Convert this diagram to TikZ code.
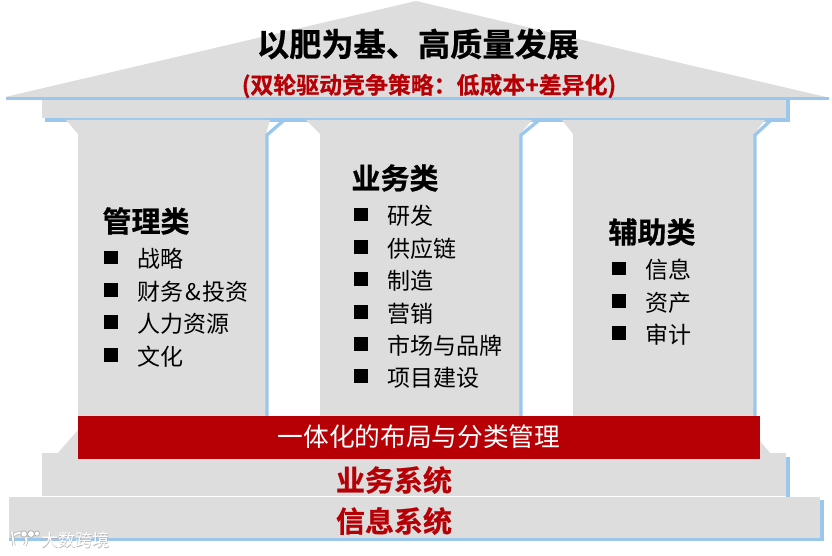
\documentclass[tikz,border=0pt]{standalone}
\usepackage{fontspec}
\setmainfont{Noto Sans CJK SC}
\newfontfamily\heavy[FakeBold=0.7]{Noto Sans CJK SC Bold}
\definecolor{pgray}{HTML}{DDDDDD}
\definecolor{pblue}{HTML}{9CC7EC}
\definecolor{pred}{HTML}{B60005}
\definecolor{wmshade}{HTML}{B4B4B4}
\tikzset{x=1pt,y=-1pt,
  body/.style={fill=pgray,draw=none},
  edge/.style={draw=pblue,line width=3.3pt,line join=miter},
  head/.style={font=\fontsize{29}{29}\heavy,inner sep=0pt},
  item/.style={font=\fontsize{23}{23}\selectfont,anchor=west,inner sep=0pt,yshift=-1.5pt},
  sq/.style={fill=black,minimum size=13.5pt,inner sep=0pt},
  redhead/.style={font=\fontsize{29}{29}\heavy,text=pred,inner sep=0pt},
  wmtext/.style={font=\fontsize{17}{17}\selectfont,inner sep=0pt}}
\newcommand{\colrow}[4]{%
  \node[sq] (s#1) at (#2,#3) {};
  \node[item] (t#1) at ([xshift=19.5pt]s#1.east) {#4};}
\begin{document}
\begin{tikzpicture}
\useasboundingbox (0,0) rectangle (832,556);
% roof
\fill[body] (416,1) -- (826,97) -- (5,97) -- cycle;
\draw[edge] (6,98.5) -- (829,98.5);
% entablature
\fill[body] (42,100) rectangle (786,118);
\draw[edge] (45,120) -- (788,120) -- (788,100);
% columns
\fill[body] (66,120) -- (270,120) -- (266,134) -- (266,416) -- (78,416) -- (78,134) -- cycle;
\fill[body] (306,120) -- (532,120) -- (520,134) -- (520,416) -- (320,416) -- (320,134) -- cycle;
\fill[body] (562,120) -- (765,120) -- (754,134) -- (754,416) -- (573,416) -- (573,134) -- cycle;
\draw[edge] (283,121) -- (267,135) -- (267,416);
\draw[edge] (538,121) -- (521,135) -- (521,416);
\draw[edge] (770,121) -- (755,135) -- (755,416);
% base
\fill[body] (57,454) -- (78,430) -- (759,440) -- (771,454) -- cycle;
\fill[body] (42,453) rectangle (786,496);
\draw[edge] (788,457) -- (788,497);
\fill[body] (9,497) rectangle (820,538);
\draw[edge] (9,539.5) -- (822,539.5) -- (822,500);
% red band
\node[fill=pred,minimum width=682pt,minimum height=43pt,inner sep=0pt,anchor=north west] (band) at (78,416) {};
\node[text=white,font=\fontsize{25.7}{26}\selectfont,inner sep=0pt] (bandt) at (419,437) {一体化的布局与分类管理};
% titles
\node[font=\fontsize{32.2}{32}\heavy,inner sep=0pt] (title) at (418,44) {以肥为基、高质量发展};
\node[font=\fontsize{22.9}{23}\heavy,text=pred,inner sep=0pt] (sub) at (429,86) {(双轮驱动竞争策略：低成本+差异化)};
% column 1
\node[head] (h1) at (146,221) {管理类};
\colrow{a}{111}{257.5}{战略}
\colrow{b}{111}{290}{财务\hspace{1.5pt}\&\hspace{1.5pt}投资}
\colrow{c}{111}{322}{人力资源}
\colrow{d}{111}{355}{文化}
% column 2
\node[head] (h2) at (395,178) {业务类};
\colrow{e}{361}{214.5}{研发}
\colrow{f}{361}{247}{供应链}
\colrow{g}{361}{279}{制造}
\colrow{h}{361}{312}{营销}
\colrow{i}{361}{344}{市场与品牌}
\colrow{j}{361}{376}{项目建设}
% column 3
\node[head] (h3) at (652,232) {辅助类};
\colrow{k}{619}{268.5}{信息}
\colrow{l}{619}{301}{资产}
\colrow{m}{619}{333}{审计}
% base labels
\node[redhead] (b1) at (394,480) {业务系统};
\node[redhead] (b2) at (394,521) {信息系统};
% watermark
\draw[wmshade,line width=3.4pt] (12,538) arc (200:400:7.5);
\draw[white,line width=2pt] (12,538) arc (200:400:7.5);
\draw[wmshade,line width=3pt] (12,532) -- (14,546);
\draw[white,line width=1.7pt] (12,532) -- (14,546);
\draw[wmshade,line width=.8pt,fill=white] (24,534) circle (3.2) (31,534) circle (3.4) (37,533.5) circle (2.6);
\node[wmtext,text=wmshade] (wms) at (75.6,540.6) {大数跨境};
\node[wmtext,text=white] (wm) at (75,540) {大数跨境};
\end{tikzpicture}
\end{document}
